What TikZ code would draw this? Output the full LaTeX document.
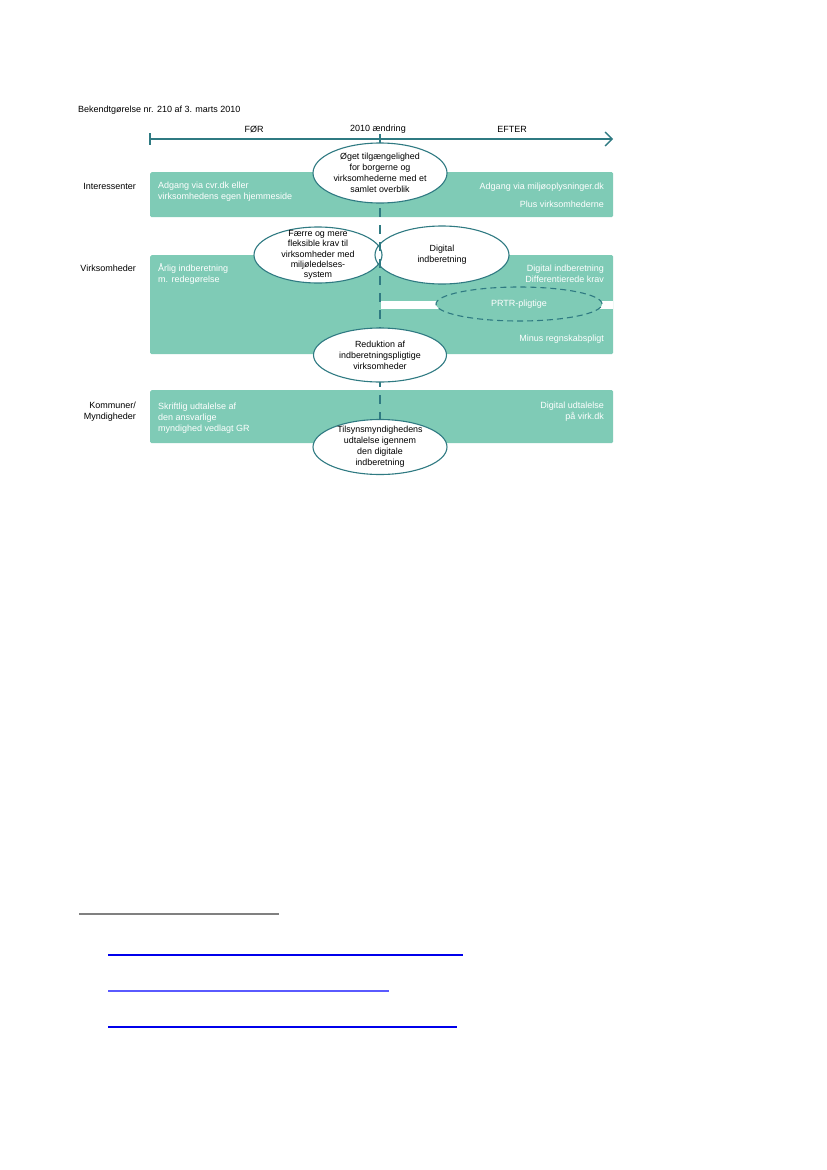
\documentclass[tikz,border=0pt]{standalone}
\usepackage{fontspec}
\setmainfont{Liberation Sans}
\usetikzlibrary{shapes.geometric,arrows.meta}
\definecolor{mint}{RGB}{127,203,182}
\definecolor{tealdark}{RGB}{47,122,130}
\definecolor{linkblue}{RGB}{0,0,235}
\definecolor{linkblue2}{RGB}{90,90,255}
\begin{document}
\begin{tikzpicture}[x=1pt,y=-1pt,
  font=\fontsize{9}{10.8}\selectfont,
  box/.style={fill=mint, rounded corners=1.5pt, inner sep=0, anchor=north west},
  intxt/.style={text=white, inner sep=0},
  lbl/.style={text=black, inner sep=0, align=right, anchor=east},
  bubble/.style={ellipse, draw=tealdark, line width=1.1pt, inner sep=0},
  bubtxt/.style={text=black, inner sep=0, align=center, font=\fontsize{8.9}{11}\selectfont},
  tl/.style={draw=tealdark, line width=1.3pt}]
\useasboundingbox (0,0) rectangle (827,1170);

% title and timeline
\node[anchor=west, inner sep=0] (title) at (78,110) {Bekendtgørelse nr. 210 af 3. marts 2010};
\node[inner sep=0] (foer) at (254,129) {FØR};
\node[inner sep=0] (aendr) at (378,129) {2010 ændring};
\node[inner sep=0] (efter) at (512,129) {EFTER};
\coordinate (t0) at (150,139);
\coordinate (t1) at (613,139);
\coordinate (tk0a) at (150,133);
\coordinate (tk0b) at (150,145);
\coordinate (tk1a) at (380,134);
\coordinate (tk1b) at (380,145);
\draw[tl, -{Straight Barb[length=7pt,width=14pt,line width=1.3pt]}] (t0) -- (t1);
\draw[tl] (tk0a) -- (tk0b);
\draw[tl] (tk1a) -- (tk1b);

% row labels
\node[lbl] (lint) at (136,186) {Interessenter};
\node[lbl] (lvirk) at (136,268) {Virksomheder};
\node[lbl] (lkom) at (136,412) {Kommuner/\\Myndigheder};

% boxes
\node[box, minimum width=463pt, minimum height=45pt] (b1) at (150,172) {};
\node[box, minimum width=463pt, minimum height=99pt] (b2) at (150,255) {};
\node[box, minimum width=463pt, minimum height=53pt] (b3) at (150,390) {};
\node[fill=white, inner sep=0, anchor=north west, minimum width=232pt, minimum height=8pt] (strip) at (381,301) {};

% box texts
\node[intxt, anchor=west, align=left] (b1l) at (158,192) {Adgang via cvr.dk eller\\virksomhedens egen hjemmeside};
\node[intxt, anchor=east] (b1r1) at (604,187) {Adgang via miljøoplysninger.dk};
\node[intxt, anchor=east] (b1r2) at (604,204) {Plus virksomhederne};
\node[intxt, anchor=west, align=left] (b2l) at (158,274) {Årlig indberetning\\m. redegørelse};
\node[intxt, anchor=east, align=right] (b2r) at (604,274) {Digital indberetning\\Differentierede krav};
\node[intxt, anchor=east] (b2r2) at (604,339) {Minus regnskabspligt};
\node[intxt, anchor=west, align=left] (b3l) at (158,418) {Skriftlig udtalelse af\\den ansvarlige\\myndighed vedlagt GR};
\node[intxt, anchor=east, align=right] (b3r) at (604,412) {Digital udtalelse\\på virk.dk};

% PRTR dashed ellipse
\node[ellipse, fill=mint, draw=tealdark, line width=1.1pt, dash pattern=on 6pt off 4pt, minimum width=166pt, minimum height=34pt, inner sep=0] (prtr) at (519,304) {};
\node[intxt] (prtrt) at (prtr) {PRTR-pligtige};

% overlapping pair: fills first, then outlines
\fill[white] (318,255) ellipse [x radius=64, y radius=28];
\fill[white] (442,255) ellipse [x radius=67, y radius=29];
\node[bubble, minimum width=128pt, minimum height=56pt] (efae) at (318,255) {};
\node[bubble, minimum width=134pt, minimum height=58pt] (edig) at (442,255) {};
\node[bubtxt, font=\fontsize{8.9}{10.4}\selectfont] (efaet) at (efae) {Færre og mere\\fleksible krav til\\virksomheder med\\miljøledelses-\\system};
\node[bubtxt] (edigt) at (edig) {Digital\\indberetning};

% dashed change line
\coordinate (dtop) at (380,140);
\coordinate (dbot) at (380,478);
\draw[tealdark, line width=1.3pt, dash pattern=on 9pt off 8pt] (dtop) -- (dbot);

% bubbles on the change line
\node[bubble, fill=white, minimum width=134pt, minimum height=60pt] (eoget) at (380,173) {};
\node[bubtxt] (eogett) at (eoget) {Øget tilgængelighed\\for borgerne og\\virksomhederne med et\\samlet overblik};
\node[bubble, fill=white, minimum width=133pt, minimum height=54pt] (ered) at (380,355) {};
\node[bubtxt] (eredt) at (ered) {Reduktion af\\indberetningspligtige\\virksomheder};
\node[bubble, fill=white, minimum width=134pt, minimum height=55pt] (etil) at (380,447) {};
\node[bubtxt] (etilt) at (etil) {Tilsynsmyndighedens\\udtalelse igennem\\den digitale\\indberetning};

% footnote rule and link underlines
\coordinate (r0) at (79,914);
\coordinate (r1) at (279,914);
\draw[gray, line width=1.3pt] (r0) -- (r1);
\coordinate (u1a) at (108,955);
\coordinate (u1b) at (463,955);
\coordinate (u2a) at (108,991);
\coordinate (u2b) at (389,991);
\coordinate (u3a) at (108,1027);
\coordinate (u3b) at (457,1027);
\draw[linkblue, line width=1.2pt] (u1a) -- (u1b);
\draw[linkblue2, line width=2.2pt] (u2a) -- (u2b);
\draw[linkblue, line width=1.2pt] (u3a) -- (u3b);
\end{tikzpicture}
\end{document}
